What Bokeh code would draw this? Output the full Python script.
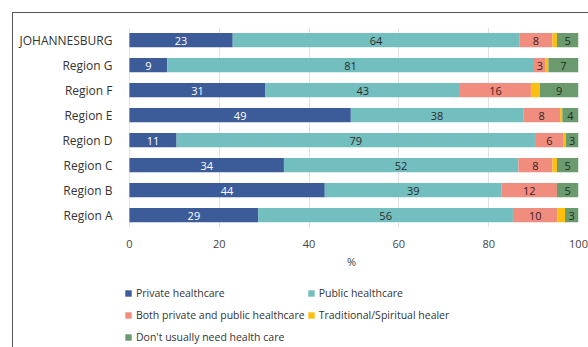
from bokeh.plotting import figure
from bokeh.models import ColumnDataSource, Legend, LegendItem
from bokeh.layouts import column
from bokeh.core.properties import value
from bokeh.embed import file_html
from bokeh.resources import INLINE

categories = ["JOHANNESBURG", "Region G", "Region F", "Region E",
              "Region D", "Region C", "Region B", "Region A"]
private = [23.0, 8.4, 30.3, 49.3, 10.5, 34.4, 43.5, 28.7]
public = [63.8, 81.7, 43.3, 38.4, 79.8, 52.2, 39.4, 56.7]
both = [7.4, 2.6, 15.8, 8.2, 6.4, 7.6, 12.3, 9.9]
traditional = [1.0, 0.6, 2.0, 0.5, 0.5, 1.0, 0.0, 1.7]
no_need = [4.8, 6.7, 8.6, 3.6, 2.8, 4.8, 4.8, 3.0]

private_lbl = ["23", "9", "31", "49", "11", "34", "44", "29"]
public_lbl = ["64", "81", "43", "38", "79", "52", "39", "56"]
both_lbl = ["8", "3", "16", "8", "6", "8", "12", "10"]
traditional_lbl = ["", "", "", "", "", "", "", ""]
no_need_lbl = ["5", "7", "9", "4", "3", "5", "5", "3"]

series_names = ["Private healthcare", "Public healthcare",
                "Both private and public healthcare",
                "Traditional/Spiritual healer",
                "Don't usually need health care"]
x_ticks = [0, 20, 40, 60, 80, 100]

colors = ["#3c5b99", "#73bfbf", "#f08d7e", "#fbbf10", "#6b9a6f"]
text_colors = ["#ffffff", "#2b2b2b", "#3a2020", "#2b2b2b", "#1f2f1f"]
FONT = "Open Sans"

keys = ["private", "public", "both", "traditional", "no_need"]
src = ColumnDataSource(dict(cat=categories, private=private, public=public,
                            both=both, traditional=traditional, no_need=no_need))

p = figure(y_range=categories[::-1], x_range=(-1.1, 100), width=576, height=258,
           output_backend="svg", toolbar_location=None,
           min_border_left=111, min_border_right=11, min_border_top=14,
           min_border_bottom=43)
p.outline_line_color = None
p.background_fill_color = "white"

rs = p.hbar_stack(keys, y="cat", height=0.57, color=colors, source=src,
                  line_color=None)

# segment labels
series = [private, public, both, traditional, no_need]
labels = [private_lbl, public_lbl, both_lbl, traditional_lbl, no_need_lbl]
lx, ly, lt, lc = [], [], [], []
for i, cat in enumerate(categories):
    left = 0.0
    for s, (vals, lbls) in enumerate(zip(series, labels)):
        v = vals[i]
        if lbls[i]:
            lx.append(left + v / 2.0)
            ly.append(cat)
            lt.append(lbls[i])
            lc.append(text_colors[s])
        left += v
lsrc = ColumnDataSource(dict(x=lx, y=ly, t=lt, c=lc))
p.text(x="x", y="y", text="t", source=lsrc, text_color="c",
       text_align="center", text_baseline="middle", y_offset=1,
       text_font=value(FONT), text_font_size="11px")

# axes
p.xaxis.ticker = x_ticks
p.xaxis.axis_line_color = None
p.xaxis.major_tick_line_color = None
p.xaxis.minor_tick_line_color = None
p.xaxis.major_label_text_font = FONT
p.xaxis.major_label_text_font_size = "11px"
p.xaxis.major_label_text_color = "#444444"
p.xaxis.major_label_standoff = 6
p.xaxis.axis_label = "%"
p.xaxis.axis_label_text_font = FONT
p.xaxis.axis_label_text_font_size = "11px"
p.xaxis.axis_label_text_font_style = "normal"
p.xaxis.axis_label_text_color = "#444444"
p.xaxis.axis_label_standoff = 3

p.yaxis.axis_line_color = None
p.yaxis.major_tick_line_color = None
p.yaxis.minor_tick_line_color = None
p.yaxis.major_label_text_font = FONT
p.yaxis.major_label_text_font_size = "12px"
p.yaxis.major_label_text_color = "#333333"
p.yaxis.major_label_standoff = 6

p.xgrid.grid_line_color = "#e2e2e2"
p.ygrid.grid_line_color = None

# legend in its own small figure below the chart
lf = figure(width=576, height=76, x_range=(0, 1), y_range=(0, 1),
            output_backend="svg", toolbar_location=None,
            x_axis_location=None, y_axis_location=None,
            min_border_left=111, min_border_right=11, min_border_top=0,
            min_border_bottom=0)
lf.outline_line_color = None
lf.grid.visible = False
dummy = [lf.hbar(y=[-5], left=[0], right=[0.1], height=0.5, color=c, line_color=None)
         for c in colors]

legend = Legend(items=[LegendItem(label=n, renderers=[r]) for n, r in zip(series_names, dummy)],
                orientation="horizontal", ncols=2, location=(0, 0))
legend.label_text_font = FONT
legend.label_text_font_size = "10.5px"
legend.label_text_color = "#333333"
legend.glyph_width = 8
legend.glyph_height = 8
legend.label_standoff = 4
legend.label_height = 20
legend.spacing = 2
legend.padding = 0
legend.margin = 0
legend.border_line_color = None
legend.background_fill_alpha = 0
lf.add_layout(legend, "center")

layout = column(p, lf, spacing=0)
layout.margin = (12, 0, 0, 12)
layout.styles = {"border-left": "1px solid #555", "border-top": "1px solid #555"}

open("out.html", "w").write(file_html(layout, INLINE))
